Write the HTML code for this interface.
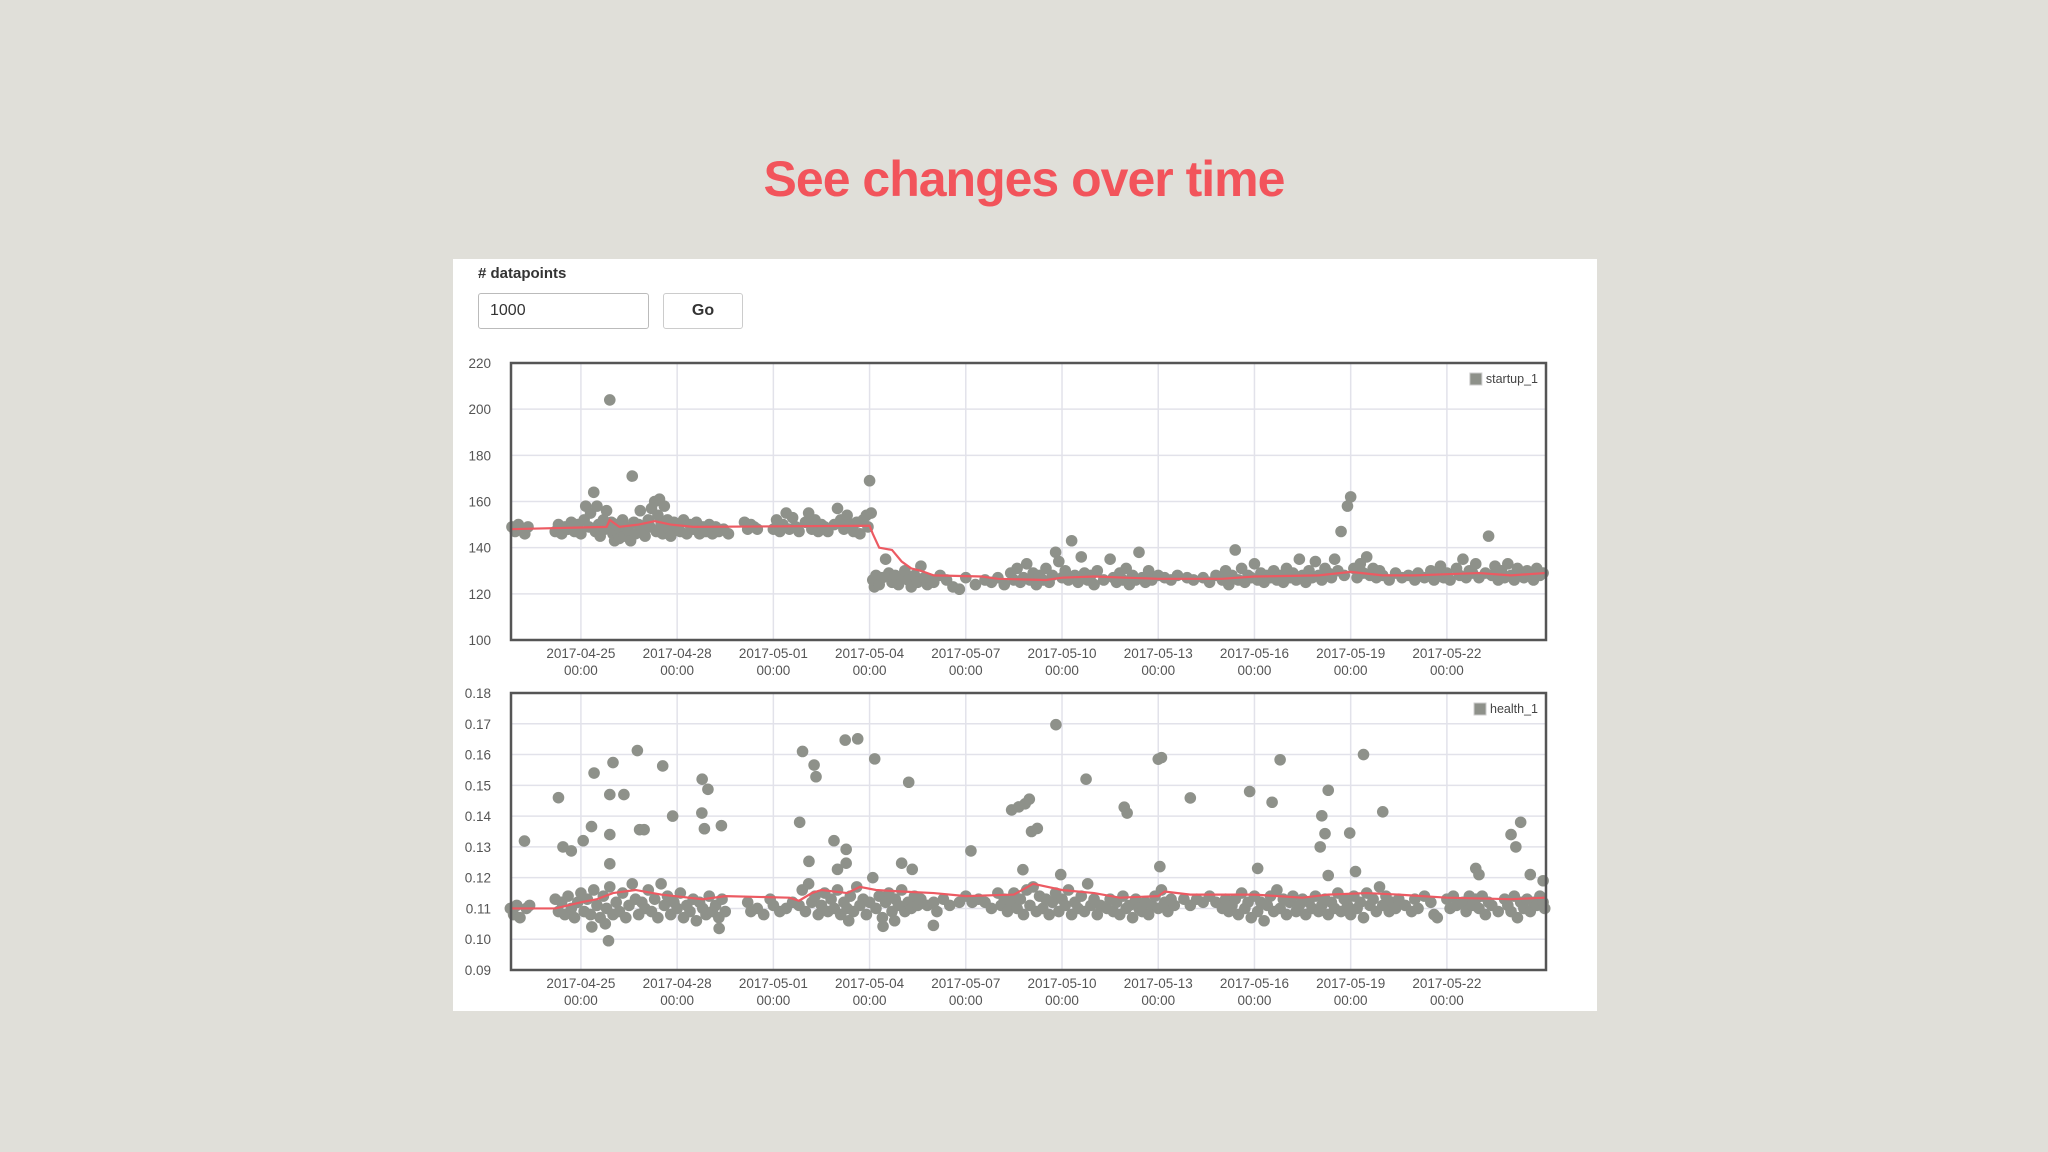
<!DOCTYPE html>
<html><head><meta charset="utf-8">
<style>
html,body{margin:0;padding:0;}
body{width:2048px;height:1152px;background:#e0dfd9;position:relative;overflow:hidden;font-family:"Liberation Sans",sans-serif;}
#title{position:absolute;left:0;width:2048px;top:150px;text-align:center;font-size:50px;font-weight:bold;color:#f2545b;letter-spacing:-1px;}
#card{position:absolute;left:453px;top:259px;width:1144px;height:752px;background:#fff;}
#lbl{position:absolute;left:478px;top:265px;font-size:15px;font-weight:bold;color:#333;}
#inp{position:absolute;left:478px;top:293px;width:158px;height:34px;border:1px solid #bbb;border-radius:3px;font-size:16px;color:#333;line-height:34px;padding-left:11px;box-sizing:content-box;}
#go{position:absolute;left:663px;top:293px;width:78px;height:34px;border:1px solid #ccc;border-radius:3px;font-size:16px;font-weight:bold;color:#333;text-align:center;line-height:34px;}
svg{position:absolute;left:0;top:0;}
</style></head><body>
<div id="title">See changes over time</div>
<div id="card"></div>
<div id="lbl"># datapoints</div>
<div id="inp">1000</div>
<div id="go">Go</div>
<svg id="svg" width="2048" height="1152"></svg>
<script>
const xTickDays=[0,3,6,9,12,15,18,21,24,27];
const xTickDates=["2017-04-25","2017-04-28","2017-05-01","2017-05-04","2017-05-07","2017-05-10","2017-05-13","2017-05-16","2017-05-19","2017-05-22"];
const topTicks=[100,120,140,160,180,200,220];
const botTicks=[0.09,0.10,0.11,0.12,0.13,0.14,0.15,0.16,0.17,0.18];
const botTickLabels=["0.09","0.10","0.11","0.12","0.13","0.14","0.15","0.16","0.17","0.18"];
const topPoints=[[-2.15,149],[-2.05,147],[-1.95,150],[-1.85,148],[-1.75,146],[-1.65,149],
[-0.8,147],[-0.7,150],[-0.6,146],[-0.5,149],[-0.4,148],[-0.3,151],[-0.2,147],[-0.1,150],[0,146],[0.1,152],[0.15,158],[0.25,149],[0.3,155],[0.4,164],[0.45,147],[0.5,158],[0.55,150],[0.6,145],[0.7,152],[0.75,148],[0.8,156],[0.85,149],[0.9,204],[0.95,151],[1.0,146],[1.05,143],[1.1,150],[1.2,144],[1.25,148],[1.3,152],[1.35,145],[1.4,149],[1.5,147],[1.55,143],[1.6,171],[1.65,151],[1.7,146],[1.8,150],[1.85,156],[1.9,148],[2.0,145],[2.1,152],[2.15,149],[2.2,157],[2.3,160],[2.35,147],[2.4,154],[2.45,161],[2.5,150],[2.55,146],[2.6,158],[2.7,152],[2.75,148],[2.8,145],[2.9,151],[3.0,149],[3.1,147],[3.2,152],[3.3,146],[3.4,150],[3.5,148],[3.6,151],[3.7,146],[3.8,149],[3.9,147],[4.0,150],[4.1,146],[4.2,149],[4.3,147],[4.45,148],[4.6,146],
[5.1,151],[5.2,148],[5.3,150],[5.4,149],[5.5,148],
[6.0,148],[6.1,152],[6.2,147],[6.3,150],[6.4,155],[6.5,148],[6.6,153],[6.7,149],[6.8,147],[7.0,151],[7.1,155],[7.2,148],[7.3,152],[7.4,147],[7.5,150],[7.6,149],[7.7,147],[7.9,150],[8.0,157],[8.1,152],[8.2,148],[8.3,154],[8.4,150],[8.5,147],[8.6,151],[8.7,146],[8.8,152],[8.9,154],[8.95,149],[9.0,169],[9.05,155],
[9.1,126],[9.15,123],[9.2,128],[9.3,124],[9.4,127],[9.5,135],[9.6,129],[9.7,125],[9.8,128],[9.9,124],[10.0,127],[10.1,130],[10.2,126],[10.3,123],[10.4,128],[10.5,125],[10.6,132],[10.7,127],[10.8,124],[10.9,126],[11.0,125],[11.2,128],[11.4,126],[11.6,123],[11.8,122],[12.0,127],[12.3,124],[12.6,126],[12.8,125],[13.0,127],[13.2,124],[13.4,129],[13.5,126],[13.6,131],[13.7,125],[13.8,127],[13.9,133],[14.0,126],[14.1,129],[14.2,124],[14.3,128],[14.4,126],[14.5,131],[14.6,125],[14.7,128],[14.8,138],[14.9,134],[15.0,127],[15.1,130],[15.2,126],[15.3,143],[15.4,128],[15.5,125],[15.6,136],[15.7,129],[15.8,126],[15.9,128],[16.0,124],[16.1,130],[16.3,126],[16.5,135],[16.6,127],[16.7,125],[16.8,129],[16.9,126],[17.0,131],[17.1,124],[17.2,128],[17.3,126],[17.4,138],[17.5,127],[17.6,125],[17.7,130],[17.8,126],[18.0,128],[18.2,127],[18.4,126],[18.6,128],[18.9,127],[19.1,126],[19.4,127],[19.6,125],[19.8,128],[20.0,126],[20.1,130],[20.2,124],[20.3,128],[20.4,139],[20.5,126],[20.6,131],[20.7,125],[20.8,128],[20.9,127],[21.0,133],[21.1,126],[21.2,129],[21.3,125],[21.4,128],[21.5,127],[21.6,130],[21.7,126],[21.8,128],[21.9,125],[22.0,131],[22.1,127],[22.2,129],[22.3,126],[22.4,135],[22.5,128],[22.6,125],[22.7,130],[22.8,127],[22.9,134],[23.0,128],[23.1,126],[23.2,131],[23.3,129],[23.4,127],[23.5,135],[23.6,130],[23.7,147],[23.8,128],[23.9,158],[24.0,162],[24.1,131],[24.2,127],[24.3,133],[24.4,129],[24.5,136],[24.6,128],[24.7,131],[24.8,127],[24.9,130],[25.0,128],[25.2,126],[25.4,129],[25.6,127],[25.8,128],[26.0,126],[26.1,129],[26.3,127],[26.5,130],[26.6,126],[26.7,128],[26.8,132],[26.9,127],[27.0,129],[27.1,126],[27.3,131],[27.4,128],[27.5,135],[27.6,127],[27.7,130],[27.8,129],[27.9,133],[28.0,127],[28.2,129],[28.3,145],[28.4,128],[28.5,132],[28.6,126],[28.7,130],[28.8,127],[28.9,133],[29.0,128],[29.1,126],[29.2,131],[29.3,129],[29.4,127],[29.5,130],[29.6,128],[29.7,126],[29.8,131],[29.9,128],[30.0,129]];
const topMean=[[-2.2,148],[0.8,149],[0.9,152],[1.0,151],[1.2,149],[1.8,150],[2.3,151.5],[2.8,150],[3.5,149],[9.0,149.5],[9.1,146],[9.3,140],[9.7,139],[10.0,134],[10.3,131],[10.6,130],[11.0,128],[12.5,127.5],[13,126.5],[14.5,126],[15,127],[16,127.5],[17,127],[18,126.5],[20,126.5],[21,127.5],[23,128],[24,129.5],[25,128],[26,128],[27,128.5],[28,129],[29,128],[30.05,129]];
const botOutliers=[[-1.76,0.1319],[-0.70,0.146],[-0.56,0.130],[-0.30,0.1287],[0.07,0.132],[0.33,0.1366],[0.41,0.154],[0.76,0.105],[0.34,0.104],[0.90,0.147],[0.90,0.134],[0.90,0.1245],[0.86,0.0995],[1.0,0.1574],[1.34,0.147],[1.76,0.1613],[1.83,0.1356],[1.97,0.1356],[2.55,0.1563],[2.86,0.140],[3.78,0.152],[3.96,0.1487],[3.77,0.141],[3.85,0.1359],[4.31,0.1035],[4.38,0.1369],[6.91,0.161],[7.27,0.1566],[7.33,0.1528],[6.82,0.138],[7.11,0.1253],[7.89,0.132],[8.24,0.1647],[8.63,0.1651],[8.00,0.1227],[8.27,0.1292],[8.27,0.1247],[8.35,0.106],[9.16,0.1586],[10.0,0.1247],[10.33,0.1227],[10.22,0.151],[9.42,0.1042],[9.78,0.106],[10.99,0.1045],[12.16,0.1287],[13.43,0.142],[13.65,0.143],[13.85,0.144],[13.98,0.1455],[14.05,0.135],[14.23,0.136],[13.78,0.1226],[14.81,0.1697],[14.96,0.121],[15.75,0.152],[16.94,0.1429],[17.03,0.141],[18.0,0.1585],[18.1,0.159],[18.05,0.1236],[19.0,0.1459],[20.85,0.148],[21.1,0.123],[21.8,0.1583],[21.55,0.1445],[23.3,0.1484],[23.1,0.1401],[23.2,0.1343],[23.05,0.130],[23.3,0.1207],[24.4,0.160],[23.97,0.1345],[24.15,0.122],[25.0,0.1414],[29.0,0.134],[29.3,0.138],[29.15,0.130],[27.9,0.123],[28.0,0.121],[29.6,0.121],[30.0,0.119]];
const botBand=[[-2.2,.110],[-2.1,.108],[-2.0,.111],[-1.9,.107],[-1.7,.110],[-1.6,.111],[-0.8,.113],[-0.7,.109],[-0.6,.112],[-0.5,.108],[-0.4,.114],[-0.3,.110],[-0.2,.107],[-0.1,.112],[0,.115],[0.1,.109],[0.2,.113],[0.3,.108],[0.4,.116],[0.5,.111],[0.6,.107],[0.7,.114],[0.8,.110],[0.9,.117],[1.0,.108],[1.1,.112],[1.2,.109],[1.3,.115],[1.4,.107],[1.5,.111],[1.6,.118],[1.7,.113],[1.8,.108],[1.9,.112],[2.0,.110],[2.1,.116],[2.2,.109],[2.3,.113],[2.4,.107],[2.5,.118],[2.6,.111],[2.7,.114],[2.8,.108],[2.9,.112],[3.0,.110],[3.1,.115],[3.2,.107],[3.3,.111],[3.4,.109],[3.5,.113],[3.6,.106],[3.7,.112],[3.8,.110],[3.9,.108],[4.0,.114],[4.1,.109],[4.2,.111],[4.3,.107],[4.4,.113],[4.5,.109],[5.2,.112],[5.3,.109],[5.5,.110],[5.7,.108],[5.9,.113],[6.0,.111],[6.2,.109],[6.4,.110],[6.6,.112],[6.8,.111],[6.9,.116],[7.0,.109],[7.1,.118],[7.2,.112],[7.3,.114],[7.4,.108],[7.5,.111],[7.6,.115],[7.7,.109],[7.8,.113],[7.9,.110],[8.0,.116],[8.1,.108],[8.2,.112],[8.3,.110],[8.4,.114],[8.5,.109],[8.6,.117],[8.7,.111],[8.8,.113],[8.9,.108],[9.0,.112],[9.1,.120],[9.2,.110],[9.3,.114],[9.4,.107],[9.5,.112],[9.6,.115],[9.7,.109],[9.8,.113],[9.9,.111],[10.0,.116],[10.1,.109],[10.2,.112],[10.3,.110],[10.4,.114],[10.5,.111],[10.6,.113],[10.8,.111],[11.0,.112],[11.1,.109],[11.3,.113],[11.5,.111],[11.8,.112],[12.0,.114],[12.2,.112],[12.4,.113],[12.6,.112],[12.8,.110],[13.0,.115],[13.1,.111],[13.2,.113],[13.3,.109],[13.4,.112],[13.5,.115],[13.6,.110],[13.7,.113],[13.8,.108],[13.9,.116],[14.0,.111],[14.1,.117],[14.2,.109],[14.3,.114],[14.4,.110],[14.5,.113],[14.6,.108],[14.7,.112],[14.8,.115],[14.9,.109],[15.0,.113],[15.1,.111],[15.2,.116],[15.3,.108],[15.4,.112],[15.5,.110],[15.6,.114],[15.7,.109],[15.8,.118],[15.9,.111],[16.0,.113],[16.1,.108],[16.2,.111],[16.4,.110],[16.5,.113],[16.6,.109],[16.7,.112],[16.8,.108],[16.9,.114],[17.0,.110],[17.1,.111],[17.2,.107],[17.3,.113],[17.4,.110],[17.5,.109],[17.6,.112],[17.7,.108],[17.8,.111],[17.9,.114],[18.0,.110],[18.1,.116],[18.2,.112],[18.3,.109],[18.4,.113],[18.5,.111],[18.8,.113],[19.0,.111],[19.2,.113],[19.4,.112],[19.6,.114],[19.8,.112],[20.0,.110],[20.1,.113],[20.2,.109],[20.3,.111],[20.4,.113],[20.5,.108],[20.6,.115],[20.7,.110],[20.8,.112],[20.9,.107],[21.0,.114],[21.1,.109],[21.2,.112],[21.3,.106],[21.4,.111],[21.5,.114],[21.6,.109],[21.7,.116],[21.8,.110],[21.9,.113],[22.0,.108],[22.1,.112],[22.2,.114],[22.3,.109],[22.4,.111],[22.5,.113],[22.6,.108],[22.7,.112],[22.8,.110],[22.9,.114],[23.0,.109],[23.1,.111],[23.2,.113],[23.3,.108],[23.4,.112],[23.5,.110],[23.6,.115],[23.7,.109],[23.8,.113],[23.9,.111],[24.0,.108],[24.1,.114],[24.2,.110],[24.3,.112],[24.4,.107],[24.5,.115],[24.6,.111],[24.7,.113],[24.8,.109],[24.9,.117],[25.0,.111],[25.1,.114],[25.2,.109],[25.3,.112],[25.4,.110],[25.5,.113],[25.7,.111],[25.9,.109],[26.0,.113],[26.1,.110],[26.3,.114],[26.5,.112],[26.6,.108],[26.7,.107],[27.0,.113],[27.1,.110],[27.2,.114],[27.3,.111],[27.5,.112],[27.6,.109],[27.7,.114],[27.8,.111],[27.9,.113],[28.0,.110],[28.1,.114],[28.2,.108],[28.3,.112],[28.4,.111],[28.6,.109],[28.8,.113],[28.9,.111],[29.0,.109],[29.1,.114],[29.2,.107],[29.3,.112],[29.4,.110],[29.5,.113],[29.6,.109],[29.7,.112],[29.8,.111],[29.9,.114],[30.0,.112],[30.05,.110]];
const botMean=[[-2.2,.110],[-0.8,.110],[0,.112],[0.5,.113],[1.0,.115],[1.7,.116],[2.5,.1145],[3.8,.113],[4.5,.114],[6.5,.1135],[6.8,.1125],[7.2,.115],[7.5,.116],[8.3,.115],[8.7,.117],[9.2,.116],[10,.1155],[11,.115],[12,.114],[13.5,.1145],[14.1,.118],[15,.116],[16,.115],[16.8,.1135],[18,.114],[18.2,.1155],[19,.1145],[21,.1145],[22.5,.1135],[23.3,.1145],[24.5,.115],[25.5,.1145],[27,.1135],[29,.113],[30.05,.1135]];

const NS="http://www.w3.org/2000/svg";
const svg=document.getElementById('svg');
const PL=511,PR=1546,T0=-2.18,T1=30.09;
function xs(t){return PL+(t-T0)/(T1-T0)*(PR-PL);}
function mk(tag,attrs,parent){const e=document.createElementNS(NS,tag);for(const k in attrs)e.setAttribute(k,attrs[k]);(parent||svg).appendChild(e);return e;}

function chart(top,bot,y0,y1,ticks,tickLabels,pts,extra,mean,legend,prefix){
  const ys=v=>bot-(v-y0)/(y1-y0)*(bot-top);
  const g=mk('g',{});
  
  
  ticks.forEach((v,i)=>{
    const l=mk('line',{x1:PL,x2:PR,y1:ys(v),y2:ys(v),stroke:'#e2e2ea','stroke-width':1.5},g);
    
    
    const tx=mk('text',{x:491,y:ys(v)+5,'text-anchor':'end','font-size':13.5,fill:'#555','font-family':'Liberation Sans, sans-serif'},g);
    tx.textContent=tickLabels[i];
    
    
  });
  xTickDays.forEach((d,i)=>{
    const x=xs(d);
    const l=mk('line',{x1:x,x2:x,y1:top,y2:bot,stroke:'#e2e2ea','stroke-width':1.5},g);
    
    
    const t1=mk('text',{x:x,y:bot+18,'text-anchor':'middle','font-size':13.5,fill:'#555','font-family':'Liberation Sans, sans-serif'},g);
    t1.textContent=xTickDates[i];
    
    
    const t2=mk('text',{x:x,y:bot+35,'text-anchor':'middle','font-size':13.5,fill:'#555','font-family':'Liberation Sans, sans-serif'},g);
    t2.textContent='00:00';
    
    
  });
  pts.concat(extra).forEach(p=>{
    const c=mk('circle',{cx:xs(p[0]),cy:ys(p[1]),r:5.8,fill:'#8e918a'},g);
    
    
  });
  const pl=mk('polyline',{points:mean.map(p=>xs(p[0])+','+ys(p[1])).join(' '),fill:'none',stroke:'#ec5a62','stroke-width':2.2},g);
  
  
  const b=mk('rect',{x:PL,y:top,width:PR-PL,height:bot-top,fill:'none',stroke:'#555','stroke-width':2.5},g);
  
  
  const lg=mk('g',{},g);
  
  
  const lt=mk('text',{x:PR-8,y:top+20,'text-anchor':'end','font-size':12.5,fill:'#444','font-family':'Liberation Sans, sans-serif'},lg);
  lt.textContent=legend;
  const tw=lt.getComputedTextLength();
  mk('rect',{x:PR-8-tw-16,y:top+10,width:12,height:12,fill:'#8e918a',stroke:'#ccc'},lg);
}
chart(363,640,100,220,topTicks,topTicks.map(String),topPoints,[],topMean,'startup_1','startup');
chart(693,970,0.09,0.18,botTicks,botTickLabels,botBand,botOutliers,botMean,'health_1','health');
</script>
</body></html>
